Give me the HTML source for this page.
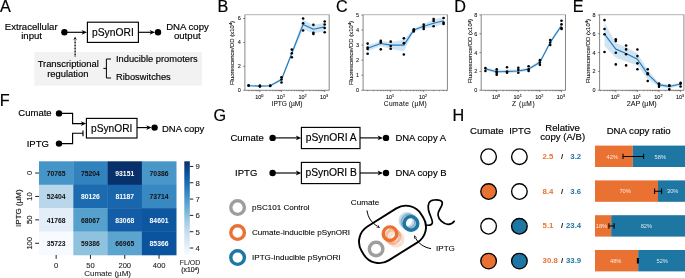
<!DOCTYPE html>
<html><head><meta charset="utf-8"><title>Figure</title>
<style>html,body{margin:0;padding:0;background:#fff}svg{display:block}</style></head>
<body>
<svg width="685" height="278" viewBox="0 0 685 278" font-family='"Liberation Sans", Arial, Helvetica, sans-serif' fill="#000">
<rect width="685" height="278" fill="#fff"/>
<text x="-0.10" y="11.60" font-size="16.2" text-anchor="start" fill="#000" stroke="#000" stroke-width="0.2">A</text>
<rect x="34.4" y="52" width="167.6" height="33.6" fill="#f2f2f2"/>
<text x="31.20" y="29.60" font-size="9.6" text-anchor="middle" stroke="#000" stroke-width="0.16">Extracellular</text>
<text x="31.60" y="39.40" font-size="9.6" text-anchor="middle" stroke="#000" stroke-width="0.16">input</text>
<circle cx="64.40" cy="32.30" r="3.2" fill="#000"/>
<line x1="64.40" y1="32.30" x2="83.20" y2="32.30" stroke="#000" stroke-width="1.15"/>
<path d="M87.00,32.30 L81.60,34.70 L83.10,32.30 L81.60,29.90 z" fill="#000"/>
<rect x="87.4" y="22.2" width="51.00" height="20.20" fill="#fff" stroke="#000" stroke-width="1.15"/>
<text x="112.90" y="35.70" font-size="10.3" text-anchor="middle" stroke="#000" stroke-width="0.16">pSynORI</text>
<line x1="138.40" y1="32.30" x2="151.20" y2="32.30" stroke="#000" stroke-width="1.15"/>
<path d="M155.00,32.30 L149.60,34.70 L151.10,32.30 L149.60,29.90 z" fill="#000"/>
<circle cx="158.00" cy="32.30" r="3.2" fill="#000"/>
<text x="187.50" y="29.60" font-size="9.6" text-anchor="middle" stroke="#000" stroke-width="0.16">DNA copy</text>
<text x="187.30" y="39.40" font-size="9.6" text-anchor="middle" stroke="#000" stroke-width="0.16">output</text>
<line x1="75.1" y1="56.4" x2="75.1" y2="40" stroke="#000" stroke-width="1.3" stroke-dasharray="0.9 0.6"/>
<path d="M75.10,36.60 L76.90,40.60 L75.10,39.10 L73.30,40.60 z" fill="#000"/>
<text x="68.20" y="67.40" font-size="9.4" text-anchor="middle" stroke="#000" stroke-width="0.16">Transcriptional</text>
<text x="67.80" y="76.90" font-size="9.4" text-anchor="middle" stroke="#000" stroke-width="0.16">regulation</text>
<path d="M111,59 H106.4 V78 H111 M106.4,68.4 H103.4" fill="none" stroke="#000" stroke-width="1"/>
<text x="116.00" y="62.00" font-size="9.3" text-anchor="start" stroke="#000" stroke-width="0.16">Inducible promoters</text>
<text x="116.00" y="80.00" font-size="9.3" text-anchor="start" stroke="#000" stroke-width="0.16">Riboswitches</text>
<text x="217.40" y="11.60" font-size="16.2" text-anchor="start" fill="#000" stroke="#000" stroke-width="0.2">B</text>
<clipPath id="cB"><rect x="244.9" y="14.7" width="84.3" height="75.60"/></clipPath>
<polygon points="248.61,84.80 259.90,85.27 270.21,84.80 281.50,77.73 291.81,50.81 303.10,19.70 313.41,25.08 324.70,22.69 324.70,31.06 313.41,33.46 303.10,29.27 291.81,55.60 281.50,81.33 270.21,86.71 259.90,86.95 248.61,86.71" fill="#c9dff0" opacity="0.85"/>
<polyline points="248.61,85.75 259.90,86.11 270.21,85.75 281.50,79.53 291.81,53.20 303.10,24.48 313.41,29.27 324.70,26.88" fill="none" stroke="#1f7bc0" stroke-width="1.15" stroke-linejoin="round"/>
<circle cx="248.61" cy="85.27" r="1.3" fill="#000"/>
<circle cx="248.61" cy="85.75" r="1.3" fill="#000"/>
<circle cx="259.90" cy="85.51" r="1.3" fill="#000"/>
<circle cx="259.90" cy="86.59" r="1.3" fill="#000"/>
<circle cx="270.21" cy="85.51" r="1.3" fill="#000"/>
<circle cx="270.21" cy="85.99" r="1.3" fill="#000"/>
<circle cx="281.50" cy="77.26" r="1.3" fill="#000"/>
<circle cx="281.50" cy="79.53" r="1.3" fill="#000"/>
<circle cx="281.50" cy="82.52" r="1.3" fill="#000"/>
<circle cx="291.81" cy="49.61" r="1.3" fill="#000"/>
<circle cx="291.81" cy="53.20" r="1.3" fill="#000"/>
<circle cx="291.81" cy="57.27" r="1.3" fill="#000"/>
<circle cx="303.10" cy="18.50" r="1.3" fill="#000"/>
<circle cx="303.10" cy="23.29" r="1.3" fill="#000"/>
<circle cx="303.10" cy="30.47" r="1.3" fill="#000"/>
<circle cx="313.41" cy="24.84" r="1.3" fill="#000"/>
<circle cx="313.41" cy="32.86" r="1.3" fill="#000"/>
<circle cx="313.41" cy="34.06" r="1.3" fill="#000"/>
<circle cx="324.70" cy="21.49" r="1.3" fill="#000"/>
<circle cx="324.70" cy="24.48" r="1.3" fill="#000"/>
<circle cx="324.70" cy="28.07" r="1.3" fill="#000"/>
<circle cx="324.70" cy="32.26" r="1.3" fill="#000"/>
<path d="M244.9,14.7 V90.3 H329.2 V14.7" fill="none" stroke="#222" stroke-width="0.55"/>
<path d="M244.9,14.7 H329.2" fill="none" stroke="#555" stroke-width="0.45"/>
<line x1="243.1" y1="90.30" x2="244.9" y2="90.30" stroke="#222" stroke-width="0.5"/>
<text x="240.90" y="92.20" font-size="5.5" text-anchor="end" fill="#111" stroke="#111" stroke-width="0.08">0</text>
<line x1="243.1" y1="66.37" x2="244.9" y2="66.37" stroke="#222" stroke-width="0.5"/>
<text x="240.90" y="68.27" font-size="5.5" text-anchor="end" fill="#111" stroke="#111" stroke-width="0.08">2</text>
<line x1="243.1" y1="42.43" x2="244.9" y2="42.43" stroke="#222" stroke-width="0.5"/>
<text x="240.90" y="44.33" font-size="5.5" text-anchor="end" fill="#111" stroke="#111" stroke-width="0.08">4</text>
<line x1="243.1" y1="18.50" x2="244.9" y2="18.50" stroke="#222" stroke-width="0.5"/>
<text x="240.90" y="20.40" font-size="5.5" text-anchor="end" fill="#111" stroke="#111" stroke-width="0.08">6</text>
<line x1="259.90" y1="90.3" x2="259.90" y2="92.1" stroke="#222" stroke-width="0.5"/>
<text x="259.30" y="98.70" font-size="5.5" text-anchor="middle" fill="#111" stroke="#111" stroke-width="0.1">10<tspan font-size="3.8" dy="-2.2">0</tspan></text>
<line x1="281.50" y1="90.3" x2="281.50" y2="92.1" stroke="#222" stroke-width="0.5"/>
<text x="280.90" y="98.70" font-size="5.5" text-anchor="middle" fill="#111" stroke="#111" stroke-width="0.1">10<tspan font-size="3.8" dy="-2.2">1</tspan></text>
<line x1="303.10" y1="90.3" x2="303.10" y2="92.1" stroke="#222" stroke-width="0.5"/>
<text x="302.50" y="98.70" font-size="5.5" text-anchor="middle" fill="#111" stroke="#111" stroke-width="0.1">10<tspan font-size="3.8" dy="-2.2">2</tspan></text>
<line x1="324.70" y1="90.3" x2="324.70" y2="92.1" stroke="#222" stroke-width="0.5"/>
<text x="324.10" y="98.70" font-size="5.5" text-anchor="middle" fill="#111" stroke="#111" stroke-width="0.1">10<tspan font-size="3.8" dy="-2.2">3</tspan></text>
<line x1="248.61" y1="90.3" x2="248.61" y2="91.3" stroke="#222" stroke-width="0.4"/>
<line x1="251.30" y1="90.3" x2="251.30" y2="91.3" stroke="#222" stroke-width="0.4"/>
<line x1="253.40" y1="90.3" x2="253.40" y2="91.3" stroke="#222" stroke-width="0.4"/>
<line x1="255.11" y1="90.3" x2="255.11" y2="91.3" stroke="#222" stroke-width="0.4"/>
<line x1="256.55" y1="90.3" x2="256.55" y2="91.3" stroke="#222" stroke-width="0.4"/>
<line x1="257.81" y1="90.3" x2="257.81" y2="91.3" stroke="#222" stroke-width="0.4"/>
<line x1="258.91" y1="90.3" x2="258.91" y2="91.3" stroke="#222" stroke-width="0.4"/>
<line x1="266.40" y1="90.3" x2="266.40" y2="91.3" stroke="#222" stroke-width="0.4"/>
<line x1="270.21" y1="90.3" x2="270.21" y2="91.3" stroke="#222" stroke-width="0.4"/>
<line x1="272.90" y1="90.3" x2="272.90" y2="91.3" stroke="#222" stroke-width="0.4"/>
<line x1="275.00" y1="90.3" x2="275.00" y2="91.3" stroke="#222" stroke-width="0.4"/>
<line x1="276.71" y1="90.3" x2="276.71" y2="91.3" stroke="#222" stroke-width="0.4"/>
<line x1="278.15" y1="90.3" x2="278.15" y2="91.3" stroke="#222" stroke-width="0.4"/>
<line x1="279.41" y1="90.3" x2="279.41" y2="91.3" stroke="#222" stroke-width="0.4"/>
<line x1="280.51" y1="90.3" x2="280.51" y2="91.3" stroke="#222" stroke-width="0.4"/>
<line x1="288.00" y1="90.3" x2="288.00" y2="91.3" stroke="#222" stroke-width="0.4"/>
<line x1="291.81" y1="90.3" x2="291.81" y2="91.3" stroke="#222" stroke-width="0.4"/>
<line x1="294.50" y1="90.3" x2="294.50" y2="91.3" stroke="#222" stroke-width="0.4"/>
<line x1="296.60" y1="90.3" x2="296.60" y2="91.3" stroke="#222" stroke-width="0.4"/>
<line x1="298.31" y1="90.3" x2="298.31" y2="91.3" stroke="#222" stroke-width="0.4"/>
<line x1="299.75" y1="90.3" x2="299.75" y2="91.3" stroke="#222" stroke-width="0.4"/>
<line x1="301.01" y1="90.3" x2="301.01" y2="91.3" stroke="#222" stroke-width="0.4"/>
<line x1="302.11" y1="90.3" x2="302.11" y2="91.3" stroke="#222" stroke-width="0.4"/>
<line x1="309.60" y1="90.3" x2="309.60" y2="91.3" stroke="#222" stroke-width="0.4"/>
<line x1="313.41" y1="90.3" x2="313.41" y2="91.3" stroke="#222" stroke-width="0.4"/>
<line x1="316.10" y1="90.3" x2="316.10" y2="91.3" stroke="#222" stroke-width="0.4"/>
<line x1="318.20" y1="90.3" x2="318.20" y2="91.3" stroke="#222" stroke-width="0.4"/>
<line x1="319.91" y1="90.3" x2="319.91" y2="91.3" stroke="#222" stroke-width="0.4"/>
<line x1="321.35" y1="90.3" x2="321.35" y2="91.3" stroke="#222" stroke-width="0.4"/>
<line x1="322.61" y1="90.3" x2="322.61" y2="91.3" stroke="#222" stroke-width="0.4"/>
<line x1="323.71" y1="90.3" x2="323.71" y2="91.3" stroke="#222" stroke-width="0.4"/>
<text x="287.05" y="105.70" font-size="6.6" text-anchor="middle" fill="#111" stroke="#111" stroke-width="0.08">IPTG (µM)</text>
<text transform="translate(233.90,53.00) rotate(-90)" font-size="6.0" text-anchor="middle" fill="#111" stroke="#111" stroke-width="0.1">Fluorescence/OD (x10<tspan font-size="3.9" dy="-1.9">4</tspan><tspan dy="1.9">)</tspan></text>
<text x="336.00" y="11.60" font-size="16.2" text-anchor="start" fill="#000" stroke="#000" stroke-width="0.2">C</text>
<clipPath id="cC"><rect x="363.1" y="14.7" width="84.3" height="75.60"/></clipPath>
<polygon points="367.63,45.27 380.77,40.90 390.70,42.11 403.83,39.85 413.77,28.55 423.70,24.04 433.63,19.52 443.57,17.26 443.57,24.04 433.63,27.05 423.70,28.55 413.77,31.57 403.83,51.14 390.70,49.04 380.77,46.02 367.63,51.45" fill="#c9dff0" opacity="0.85"/>
<polyline points="367.63,48.28 380.77,43.46 390.70,45.12 403.83,45.12 413.77,30.06 423.70,26.30 433.63,23.28 443.57,20.72" fill="none" stroke="#1f7bc0" stroke-width="1.15" stroke-linejoin="round"/>
<circle cx="367.63" cy="43.61" r="1.3" fill="#000"/>
<circle cx="367.63" cy="47.53" r="1.3" fill="#000"/>
<circle cx="367.63" cy="49.04" r="1.3" fill="#000"/>
<circle cx="367.63" cy="53.70" r="1.3" fill="#000"/>
<circle cx="380.77" cy="40.90" r="1.3" fill="#000"/>
<circle cx="380.77" cy="42.41" r="1.3" fill="#000"/>
<circle cx="380.77" cy="49.34" r="1.3" fill="#000"/>
<circle cx="390.70" cy="41.66" r="1.3" fill="#000"/>
<circle cx="390.70" cy="46.02" r="1.3" fill="#000"/>
<circle cx="390.70" cy="48.73" r="1.3" fill="#000"/>
<circle cx="403.83" cy="38.34" r="1.3" fill="#000"/>
<circle cx="403.83" cy="43.16" r="1.3" fill="#000"/>
<circle cx="403.83" cy="54.46" r="1.3" fill="#000"/>
<circle cx="413.77" cy="29.31" r="1.3" fill="#000"/>
<circle cx="413.77" cy="31.57" r="1.3" fill="#000"/>
<circle cx="413.77" cy="30.36" r="1.3" fill="#000"/>
<circle cx="423.70" cy="24.64" r="1.3" fill="#000"/>
<circle cx="423.70" cy="27.05" r="1.3" fill="#000"/>
<circle cx="423.70" cy="29.01" r="1.3" fill="#000"/>
<circle cx="433.63" cy="19.07" r="1.3" fill="#000"/>
<circle cx="433.63" cy="21.02" r="1.3" fill="#000"/>
<circle cx="433.63" cy="26.30" r="1.3" fill="#000"/>
<circle cx="443.57" cy="18.01" r="1.3" fill="#000"/>
<circle cx="443.57" cy="22.53" r="1.3" fill="#000"/>
<circle cx="443.57" cy="24.04" r="1.3" fill="#000"/>
<path d="M363.1,14.7 V90.3 H447.40000000000003 V14.7" fill="none" stroke="#222" stroke-width="0.55"/>
<path d="M363.1,14.7 H447.40000000000003" fill="none" stroke="#555" stroke-width="0.45"/>
<line x1="361.3" y1="90.30" x2="363.1" y2="90.30" stroke="#222" stroke-width="0.5"/>
<text x="359.10" y="92.20" font-size="5.5" text-anchor="end" fill="#111" stroke="#111" stroke-width="0.08">0</text>
<line x1="361.3" y1="75.24" x2="363.1" y2="75.24" stroke="#222" stroke-width="0.5"/>
<text x="359.10" y="77.14" font-size="5.5" text-anchor="end" fill="#111" stroke="#111" stroke-width="0.08">1</text>
<line x1="361.3" y1="60.18" x2="363.1" y2="60.18" stroke="#222" stroke-width="0.5"/>
<text x="359.10" y="62.08" font-size="5.5" text-anchor="end" fill="#111" stroke="#111" stroke-width="0.08">2</text>
<line x1="361.3" y1="45.12" x2="363.1" y2="45.12" stroke="#222" stroke-width="0.5"/>
<text x="359.10" y="47.02" font-size="5.5" text-anchor="end" fill="#111" stroke="#111" stroke-width="0.08">3</text>
<line x1="361.3" y1="30.06" x2="363.1" y2="30.06" stroke="#222" stroke-width="0.5"/>
<text x="359.10" y="31.96" font-size="5.5" text-anchor="end" fill="#111" stroke="#111" stroke-width="0.08">4</text>
<line x1="361.3" y1="15.00" x2="363.1" y2="15.00" stroke="#222" stroke-width="0.5"/>
<text x="359.10" y="16.90" font-size="5.5" text-anchor="end" fill="#111" stroke="#111" stroke-width="0.08">5</text>
<line x1="390.70" y1="90.3" x2="390.70" y2="92.1" stroke="#222" stroke-width="0.5"/>
<text x="390.10" y="98.70" font-size="5.5" text-anchor="middle" fill="#111" stroke="#111" stroke-width="0.1">10<tspan font-size="3.8" dy="-2.2">1</tspan></text>
<line x1="423.70" y1="90.3" x2="423.70" y2="92.1" stroke="#222" stroke-width="0.5"/>
<text x="423.10" y="98.70" font-size="5.5" text-anchor="middle" fill="#111" stroke="#111" stroke-width="0.1">10<tspan font-size="3.8" dy="-2.2">2</tspan></text>
<line x1="367.63" y1="90.3" x2="367.63" y2="91.3" stroke="#222" stroke-width="0.4"/>
<line x1="373.45" y1="90.3" x2="373.45" y2="91.3" stroke="#222" stroke-width="0.4"/>
<line x1="377.57" y1="90.3" x2="377.57" y2="91.3" stroke="#222" stroke-width="0.4"/>
<line x1="380.77" y1="90.3" x2="380.77" y2="91.3" stroke="#222" stroke-width="0.4"/>
<line x1="383.38" y1="90.3" x2="383.38" y2="91.3" stroke="#222" stroke-width="0.4"/>
<line x1="385.59" y1="90.3" x2="385.59" y2="91.3" stroke="#222" stroke-width="0.4"/>
<line x1="387.50" y1="90.3" x2="387.50" y2="91.3" stroke="#222" stroke-width="0.4"/>
<line x1="389.19" y1="90.3" x2="389.19" y2="91.3" stroke="#222" stroke-width="0.4"/>
<line x1="400.63" y1="90.3" x2="400.63" y2="91.3" stroke="#222" stroke-width="0.4"/>
<line x1="406.45" y1="90.3" x2="406.45" y2="91.3" stroke="#222" stroke-width="0.4"/>
<line x1="410.57" y1="90.3" x2="410.57" y2="91.3" stroke="#222" stroke-width="0.4"/>
<line x1="413.77" y1="90.3" x2="413.77" y2="91.3" stroke="#222" stroke-width="0.4"/>
<line x1="416.38" y1="90.3" x2="416.38" y2="91.3" stroke="#222" stroke-width="0.4"/>
<line x1="418.59" y1="90.3" x2="418.59" y2="91.3" stroke="#222" stroke-width="0.4"/>
<line x1="420.50" y1="90.3" x2="420.50" y2="91.3" stroke="#222" stroke-width="0.4"/>
<line x1="422.19" y1="90.3" x2="422.19" y2="91.3" stroke="#222" stroke-width="0.4"/>
<line x1="433.63" y1="90.3" x2="433.63" y2="91.3" stroke="#222" stroke-width="0.4"/>
<line x1="439.45" y1="90.3" x2="439.45" y2="91.3" stroke="#222" stroke-width="0.4"/>
<line x1="443.57" y1="90.3" x2="443.57" y2="91.3" stroke="#222" stroke-width="0.4"/>
<line x1="446.77" y1="90.3" x2="446.77" y2="91.3" stroke="#222" stroke-width="0.4"/>
<text x="405.48" y="105.70" font-size="6.6" text-anchor="middle" fill="#111" stroke="#111" stroke-width="0.08" letter-spacing="0.45">Cumate (µM)</text>
<text transform="translate(352.80,53.00) rotate(-90)" font-size="6.0" text-anchor="middle" fill="#111" stroke="#111" stroke-width="0.1">Fluorescence/OD (x10<tspan font-size="3.9" dy="-1.9">4</tspan><tspan dy="1.9">)</tspan></text>
<text x="454.20" y="11.60" font-size="16.2" text-anchor="start" fill="#000" stroke="#000" stroke-width="0.2">D</text>
<clipPath id="cD"><rect x="481.2" y="14.7" width="84.3" height="75.60"/></clipPath>
<polygon points="485.41,67.49 496.70,70.04 507.01,69.56 518.30,69.38 528.61,67.49 539.90,60.61 550.21,40.72 561.50,23.38 561.50,27.62 550.21,44.12 539.90,63.91 528.61,70.70 518.30,72.58 507.01,73.15 496.70,73.33 485.41,70.51" fill="#c9dff0" opacity="0.85"/>
<polyline points="485.41,68.91 496.70,71.73 507.01,71.45 518.30,70.98 528.61,69.09 539.90,62.31 550.21,42.42 561.50,25.46" fill="none" stroke="#1f7bc0" stroke-width="1.15" stroke-linejoin="round"/>
<circle cx="485.41" cy="68.15" r="1.3" fill="#000"/>
<circle cx="485.41" cy="71.07" r="1.3" fill="#000"/>
<circle cx="496.70" cy="69.19" r="1.3" fill="#000"/>
<circle cx="496.70" cy="71.45" r="1.3" fill="#000"/>
<circle cx="496.70" cy="72.77" r="1.3" fill="#000"/>
<circle cx="496.70" cy="74.65" r="1.3" fill="#000"/>
<circle cx="507.01" cy="67.30" r="1.3" fill="#000"/>
<circle cx="507.01" cy="71.45" r="1.3" fill="#000"/>
<circle cx="507.01" cy="72.77" r="1.3" fill="#000"/>
<circle cx="518.30" cy="67.68" r="1.3" fill="#000"/>
<circle cx="518.30" cy="69.85" r="1.3" fill="#000"/>
<circle cx="518.30" cy="72.77" r="1.3" fill="#000"/>
<circle cx="528.61" cy="66.27" r="1.3" fill="#000"/>
<circle cx="528.61" cy="69.19" r="1.3" fill="#000"/>
<circle cx="528.61" cy="70.98" r="1.3" fill="#000"/>
<circle cx="539.90" cy="60.14" r="1.3" fill="#000"/>
<circle cx="539.90" cy="62.59" r="1.3" fill="#000"/>
<circle cx="539.90" cy="64.85" r="1.3" fill="#000"/>
<circle cx="550.21" cy="39.97" r="1.3" fill="#000"/>
<circle cx="550.21" cy="42.52" r="1.3" fill="#000"/>
<circle cx="550.21" cy="45.06" r="1.3" fill="#000"/>
<circle cx="561.50" cy="20.74" r="1.3" fill="#000"/>
<circle cx="561.50" cy="24.33" r="1.3" fill="#000"/>
<circle cx="561.50" cy="28.10" r="1.3" fill="#000"/>
<circle cx="561.50" cy="29.04" r="1.3" fill="#000"/>
<path d="M481.2,14.7 V90.3 H565.5 V14.7" fill="none" stroke="#222" stroke-width="0.55"/>
<path d="M481.2,14.7 H565.5" fill="none" stroke="#555" stroke-width="0.45"/>
<line x1="479.4" y1="90.30" x2="481.2" y2="90.30" stroke="#222" stroke-width="0.5"/>
<text x="477.20" y="92.20" font-size="5.5" text-anchor="end" fill="#111" stroke="#111" stroke-width="0.08">0</text>
<line x1="479.4" y1="71.45" x2="481.2" y2="71.45" stroke="#222" stroke-width="0.5"/>
<text x="477.20" y="73.35" font-size="5.5" text-anchor="end" fill="#111" stroke="#111" stroke-width="0.08">2</text>
<line x1="479.4" y1="52.60" x2="481.2" y2="52.60" stroke="#222" stroke-width="0.5"/>
<text x="477.20" y="54.50" font-size="5.5" text-anchor="end" fill="#111" stroke="#111" stroke-width="0.08">4</text>
<line x1="479.4" y1="33.75" x2="481.2" y2="33.75" stroke="#222" stroke-width="0.5"/>
<text x="477.20" y="35.65" font-size="5.5" text-anchor="end" fill="#111" stroke="#111" stroke-width="0.08">6</text>
<line x1="479.4" y1="14.90" x2="481.2" y2="14.90" stroke="#222" stroke-width="0.5"/>
<text x="477.20" y="16.80" font-size="5.5" text-anchor="end" fill="#111" stroke="#111" stroke-width="0.08">8</text>
<line x1="496.70" y1="90.3" x2="496.70" y2="92.1" stroke="#222" stroke-width="0.5"/>
<text x="496.10" y="98.70" font-size="5.5" text-anchor="middle" fill="#111" stroke="#111" stroke-width="0.1">10<tspan font-size="3.8" dy="-2.2">0</tspan></text>
<line x1="518.30" y1="90.3" x2="518.30" y2="92.1" stroke="#222" stroke-width="0.5"/>
<text x="517.70" y="98.70" font-size="5.5" text-anchor="middle" fill="#111" stroke="#111" stroke-width="0.1">10<tspan font-size="3.8" dy="-2.2">1</tspan></text>
<line x1="539.90" y1="90.3" x2="539.90" y2="92.1" stroke="#222" stroke-width="0.5"/>
<text x="539.30" y="98.70" font-size="5.5" text-anchor="middle" fill="#111" stroke="#111" stroke-width="0.1">10<tspan font-size="3.8" dy="-2.2">2</tspan></text>
<line x1="561.50" y1="90.3" x2="561.50" y2="92.1" stroke="#222" stroke-width="0.5"/>
<text x="560.90" y="98.70" font-size="5.5" text-anchor="middle" fill="#111" stroke="#111" stroke-width="0.1">10<tspan font-size="3.8" dy="-2.2">3</tspan></text>
<line x1="485.41" y1="90.3" x2="485.41" y2="91.3" stroke="#222" stroke-width="0.4"/>
<line x1="488.10" y1="90.3" x2="488.10" y2="91.3" stroke="#222" stroke-width="0.4"/>
<line x1="490.20" y1="90.3" x2="490.20" y2="91.3" stroke="#222" stroke-width="0.4"/>
<line x1="491.91" y1="90.3" x2="491.91" y2="91.3" stroke="#222" stroke-width="0.4"/>
<line x1="493.35" y1="90.3" x2="493.35" y2="91.3" stroke="#222" stroke-width="0.4"/>
<line x1="494.61" y1="90.3" x2="494.61" y2="91.3" stroke="#222" stroke-width="0.4"/>
<line x1="495.71" y1="90.3" x2="495.71" y2="91.3" stroke="#222" stroke-width="0.4"/>
<line x1="503.20" y1="90.3" x2="503.20" y2="91.3" stroke="#222" stroke-width="0.4"/>
<line x1="507.01" y1="90.3" x2="507.01" y2="91.3" stroke="#222" stroke-width="0.4"/>
<line x1="509.70" y1="90.3" x2="509.70" y2="91.3" stroke="#222" stroke-width="0.4"/>
<line x1="511.80" y1="90.3" x2="511.80" y2="91.3" stroke="#222" stroke-width="0.4"/>
<line x1="513.51" y1="90.3" x2="513.51" y2="91.3" stroke="#222" stroke-width="0.4"/>
<line x1="514.95" y1="90.3" x2="514.95" y2="91.3" stroke="#222" stroke-width="0.4"/>
<line x1="516.21" y1="90.3" x2="516.21" y2="91.3" stroke="#222" stroke-width="0.4"/>
<line x1="517.31" y1="90.3" x2="517.31" y2="91.3" stroke="#222" stroke-width="0.4"/>
<line x1="524.80" y1="90.3" x2="524.80" y2="91.3" stroke="#222" stroke-width="0.4"/>
<line x1="528.61" y1="90.3" x2="528.61" y2="91.3" stroke="#222" stroke-width="0.4"/>
<line x1="531.30" y1="90.3" x2="531.30" y2="91.3" stroke="#222" stroke-width="0.4"/>
<line x1="533.40" y1="90.3" x2="533.40" y2="91.3" stroke="#222" stroke-width="0.4"/>
<line x1="535.11" y1="90.3" x2="535.11" y2="91.3" stroke="#222" stroke-width="0.4"/>
<line x1="536.55" y1="90.3" x2="536.55" y2="91.3" stroke="#222" stroke-width="0.4"/>
<line x1="537.81" y1="90.3" x2="537.81" y2="91.3" stroke="#222" stroke-width="0.4"/>
<line x1="538.91" y1="90.3" x2="538.91" y2="91.3" stroke="#222" stroke-width="0.4"/>
<line x1="546.40" y1="90.3" x2="546.40" y2="91.3" stroke="#222" stroke-width="0.4"/>
<line x1="550.21" y1="90.3" x2="550.21" y2="91.3" stroke="#222" stroke-width="0.4"/>
<line x1="552.90" y1="90.3" x2="552.90" y2="91.3" stroke="#222" stroke-width="0.4"/>
<line x1="555.00" y1="90.3" x2="555.00" y2="91.3" stroke="#222" stroke-width="0.4"/>
<line x1="556.71" y1="90.3" x2="556.71" y2="91.3" stroke="#222" stroke-width="0.4"/>
<line x1="558.15" y1="90.3" x2="558.15" y2="91.3" stroke="#222" stroke-width="0.4"/>
<line x1="559.41" y1="90.3" x2="559.41" y2="91.3" stroke="#222" stroke-width="0.4"/>
<line x1="560.51" y1="90.3" x2="560.51" y2="91.3" stroke="#222" stroke-width="0.4"/>
<text x="523.65" y="105.70" font-size="6.6" text-anchor="middle" fill="#111" stroke="#111" stroke-width="0.08" letter-spacing="0.6">Z (µM)</text>
<text transform="translate(472.40,51.20) rotate(-90)" font-size="6.0" text-anchor="middle" fill="#111" stroke="#111" stroke-width="0.1">Fluorescence/OD (x10<tspan font-size="3.9" dy="-1.9">4</tspan><tspan dy="1.9">)</tspan></text>
<text x="572.80" y="11.60" font-size="16.2" text-anchor="start" fill="#000" stroke="#000" stroke-width="0.2">E</text>
<clipPath id="cE"><rect x="599.6" y="14.7" width="84.3" height="75.60"/></clipPath>
<polygon points="604.51,22.44 615.80,42.99 626.11,46.95 637.40,53.54 647.71,69.75 659.00,83.04 669.31,84.64 680.60,82.48 680.60,85.59 669.31,88.41 659.00,86.81 647.71,79.18 637.40,65.14 626.11,61.46 615.80,57.78 604.51,46.00" fill="#c9dff0" opacity="0.85"/>
<polyline points="604.51,34.22 615.80,49.11 626.11,53.54 637.40,59.29 647.71,74.09 659.00,84.93 669.31,86.44 680.60,83.99" fill="none" stroke="#1f7bc0" stroke-width="1.15" stroke-linejoin="round"/>
<circle cx="604.51" cy="20.08" r="1.3" fill="#000"/>
<circle cx="604.51" cy="29.04" r="1.3" fill="#000"/>
<circle cx="604.51" cy="34.22" r="1.3" fill="#000"/>
<circle cx="604.51" cy="52.03" r="1.3" fill="#000"/>
<circle cx="615.80" cy="39.22" r="1.3" fill="#000"/>
<circle cx="615.80" cy="41.10" r="1.3" fill="#000"/>
<circle cx="615.80" cy="52.69" r="1.3" fill="#000"/>
<circle cx="615.80" cy="64.38" r="1.3" fill="#000"/>
<circle cx="626.11" cy="45.44" r="1.3" fill="#000"/>
<circle cx="626.11" cy="49.40" r="1.3" fill="#000"/>
<circle cx="626.11" cy="54.20" r="1.3" fill="#000"/>
<circle cx="626.11" cy="65.42" r="1.3" fill="#000"/>
<circle cx="637.40" cy="49.49" r="1.3" fill="#000"/>
<circle cx="637.40" cy="56.09" r="1.3" fill="#000"/>
<circle cx="637.40" cy="63.34" r="1.3" fill="#000"/>
<circle cx="637.40" cy="69.19" r="1.3" fill="#000"/>
<circle cx="647.71" cy="69.28" r="1.3" fill="#000"/>
<circle cx="647.71" cy="73.33" r="1.3" fill="#000"/>
<circle cx="647.71" cy="74.28" r="1.3" fill="#000"/>
<circle cx="647.71" cy="81.06" r="1.3" fill="#000"/>
<circle cx="659.00" cy="83.51" r="1.3" fill="#000"/>
<circle cx="659.00" cy="84.64" r="1.3" fill="#000"/>
<circle cx="659.00" cy="86.72" r="1.3" fill="#000"/>
<circle cx="669.31" cy="85.21" r="1.3" fill="#000"/>
<circle cx="669.31" cy="86.06" r="1.3" fill="#000"/>
<circle cx="669.31" cy="89.36" r="1.3" fill="#000"/>
<circle cx="680.60" cy="82.76" r="1.3" fill="#000"/>
<circle cx="680.60" cy="83.80" r="1.3" fill="#000"/>
<circle cx="680.60" cy="86.44" r="1.3" fill="#000"/>
<path d="M599.6,14.7 V90.3 H683.9 V14.7" fill="none" stroke="#222" stroke-width="0.55"/>
<path d="M599.6,14.7 H683.9" fill="none" stroke="#555" stroke-width="0.45"/>
<line x1="597.8000000000001" y1="90.30" x2="599.6" y2="90.30" stroke="#222" stroke-width="0.5"/>
<text x="595.60" y="92.20" font-size="5.5" text-anchor="end" fill="#111" stroke="#111" stroke-width="0.08">0</text>
<line x1="597.8000000000001" y1="71.45" x2="599.6" y2="71.45" stroke="#222" stroke-width="0.5"/>
<text x="595.60" y="73.35" font-size="5.5" text-anchor="end" fill="#111" stroke="#111" stroke-width="0.08">2</text>
<line x1="597.8000000000001" y1="52.60" x2="599.6" y2="52.60" stroke="#222" stroke-width="0.5"/>
<text x="595.60" y="54.50" font-size="5.5" text-anchor="end" fill="#111" stroke="#111" stroke-width="0.08">4</text>
<line x1="597.8000000000001" y1="33.75" x2="599.6" y2="33.75" stroke="#222" stroke-width="0.5"/>
<text x="595.60" y="35.65" font-size="5.5" text-anchor="end" fill="#111" stroke="#111" stroke-width="0.08">6</text>
<line x1="597.8000000000001" y1="14.90" x2="599.6" y2="14.90" stroke="#222" stroke-width="0.5"/>
<text x="595.60" y="16.80" font-size="5.5" text-anchor="end" fill="#111" stroke="#111" stroke-width="0.08">8</text>
<line x1="615.80" y1="90.3" x2="615.80" y2="92.1" stroke="#222" stroke-width="0.5"/>
<text x="615.20" y="98.70" font-size="5.5" text-anchor="middle" fill="#111" stroke="#111" stroke-width="0.1">10<tspan font-size="3.8" dy="-2.2">0</tspan></text>
<line x1="637.40" y1="90.3" x2="637.40" y2="92.1" stroke="#222" stroke-width="0.5"/>
<text x="636.80" y="98.70" font-size="5.5" text-anchor="middle" fill="#111" stroke="#111" stroke-width="0.1">10<tspan font-size="3.8" dy="-2.2">1</tspan></text>
<line x1="659.00" y1="90.3" x2="659.00" y2="92.1" stroke="#222" stroke-width="0.5"/>
<text x="658.40" y="98.70" font-size="5.5" text-anchor="middle" fill="#111" stroke="#111" stroke-width="0.1">10<tspan font-size="3.8" dy="-2.2">2</tspan></text>
<line x1="680.60" y1="90.3" x2="680.60" y2="92.1" stroke="#222" stroke-width="0.5"/>
<text x="680.00" y="98.70" font-size="5.5" text-anchor="middle" fill="#111" stroke="#111" stroke-width="0.1">10<tspan font-size="3.8" dy="-2.2">3</tspan></text>
<line x1="600.70" y1="90.3" x2="600.70" y2="91.3" stroke="#222" stroke-width="0.4"/>
<line x1="604.51" y1="90.3" x2="604.51" y2="91.3" stroke="#222" stroke-width="0.4"/>
<line x1="607.20" y1="90.3" x2="607.20" y2="91.3" stroke="#222" stroke-width="0.4"/>
<line x1="609.30" y1="90.3" x2="609.30" y2="91.3" stroke="#222" stroke-width="0.4"/>
<line x1="611.01" y1="90.3" x2="611.01" y2="91.3" stroke="#222" stroke-width="0.4"/>
<line x1="612.45" y1="90.3" x2="612.45" y2="91.3" stroke="#222" stroke-width="0.4"/>
<line x1="613.71" y1="90.3" x2="613.71" y2="91.3" stroke="#222" stroke-width="0.4"/>
<line x1="614.81" y1="90.3" x2="614.81" y2="91.3" stroke="#222" stroke-width="0.4"/>
<line x1="622.30" y1="90.3" x2="622.30" y2="91.3" stroke="#222" stroke-width="0.4"/>
<line x1="626.11" y1="90.3" x2="626.11" y2="91.3" stroke="#222" stroke-width="0.4"/>
<line x1="628.80" y1="90.3" x2="628.80" y2="91.3" stroke="#222" stroke-width="0.4"/>
<line x1="630.90" y1="90.3" x2="630.90" y2="91.3" stroke="#222" stroke-width="0.4"/>
<line x1="632.61" y1="90.3" x2="632.61" y2="91.3" stroke="#222" stroke-width="0.4"/>
<line x1="634.05" y1="90.3" x2="634.05" y2="91.3" stroke="#222" stroke-width="0.4"/>
<line x1="635.31" y1="90.3" x2="635.31" y2="91.3" stroke="#222" stroke-width="0.4"/>
<line x1="636.41" y1="90.3" x2="636.41" y2="91.3" stroke="#222" stroke-width="0.4"/>
<line x1="643.90" y1="90.3" x2="643.90" y2="91.3" stroke="#222" stroke-width="0.4"/>
<line x1="647.71" y1="90.3" x2="647.71" y2="91.3" stroke="#222" stroke-width="0.4"/>
<line x1="650.40" y1="90.3" x2="650.40" y2="91.3" stroke="#222" stroke-width="0.4"/>
<line x1="652.50" y1="90.3" x2="652.50" y2="91.3" stroke="#222" stroke-width="0.4"/>
<line x1="654.21" y1="90.3" x2="654.21" y2="91.3" stroke="#222" stroke-width="0.4"/>
<line x1="655.65" y1="90.3" x2="655.65" y2="91.3" stroke="#222" stroke-width="0.4"/>
<line x1="656.91" y1="90.3" x2="656.91" y2="91.3" stroke="#222" stroke-width="0.4"/>
<line x1="658.01" y1="90.3" x2="658.01" y2="91.3" stroke="#222" stroke-width="0.4"/>
<line x1="665.50" y1="90.3" x2="665.50" y2="91.3" stroke="#222" stroke-width="0.4"/>
<line x1="669.31" y1="90.3" x2="669.31" y2="91.3" stroke="#222" stroke-width="0.4"/>
<line x1="672.00" y1="90.3" x2="672.00" y2="91.3" stroke="#222" stroke-width="0.4"/>
<line x1="674.10" y1="90.3" x2="674.10" y2="91.3" stroke="#222" stroke-width="0.4"/>
<line x1="675.81" y1="90.3" x2="675.81" y2="91.3" stroke="#222" stroke-width="0.4"/>
<line x1="677.25" y1="90.3" x2="677.25" y2="91.3" stroke="#222" stroke-width="0.4"/>
<line x1="678.51" y1="90.3" x2="678.51" y2="91.3" stroke="#222" stroke-width="0.4"/>
<line x1="679.61" y1="90.3" x2="679.61" y2="91.3" stroke="#222" stroke-width="0.4"/>
<text x="641.75" y="105.70" font-size="7.1" text-anchor="middle" fill="#111" stroke="#111" stroke-width="0.08">2AP (µM)</text>
<text transform="translate(589.60,51.20) rotate(-90)" font-size="6.0" text-anchor="middle" fill="#111" stroke="#111" stroke-width="0.1">Fluorescence/OD (x10<tspan font-size="3.9" dy="-1.9">4</tspan><tspan dy="1.9">)</tspan></text>
<text x="-0.30" y="105.60" font-size="16.2" text-anchor="start" fill="#000" stroke="#000" stroke-width="0.2">F</text>
<text x="35.00" y="116.40" font-size="9.5" text-anchor="middle" stroke="#000" stroke-width="0.16">Cumate</text>
<circle cx="59.00" cy="113.40" r="3.2" fill="#000"/>
<path d="M59,113.4 H72.6 V123.6 H83" fill="none" stroke="#000" stroke-width="1.15"/>
<path d="M86.20,123.60 L80.80,126.00 L82.30,123.60 L80.80,121.20 z" fill="#000"/>
<text x="37.80" y="147.00" font-size="9.5" text-anchor="middle" stroke="#000" stroke-width="0.16">IPTG</text>
<circle cx="59.00" cy="143.60" r="3.2" fill="#000"/>
<path d="M59,143.6 H72.6 V133.2 H83 M83,130.4 V136.2" fill="none" stroke="#000" stroke-width="1.15"/>
<rect x="86.4" y="118.4" width="50.60" height="19.60" fill="#fff" stroke="#000" stroke-width="1.15"/>
<text x="111.70" y="131.80" font-size="10.2" text-anchor="middle" stroke="#000" stroke-width="0.16">pSynORI</text>
<line x1="137.00" y1="127.60" x2="147.80" y2="127.60" stroke="#000" stroke-width="1.15"/>
<path d="M151.60,127.60 L146.20,130.00 L147.70,127.60 L146.20,125.20 z" fill="#000"/>
<circle cx="154.60" cy="127.60" r="3.2" fill="#000"/>
<text x="162.00" y="131.60" font-size="9.5" text-anchor="start" stroke="#000" stroke-width="0.16">DNA copy</text>
<rect x="39.00" y="161.30" width="34.60" height="23.72" fill="#4695c8"/>
<rect x="73.30" y="161.30" width="34.60" height="23.72" fill="#3282be"/>
<rect x="107.60" y="161.30" width="34.60" height="23.72" fill="#08306b"/>
<rect x="141.90" y="161.30" width="34.60" height="23.72" fill="#4997c9"/>
<rect x="39.00" y="184.73" width="34.60" height="23.72" fill="#b9d6ea"/>
<rect x="73.30" y="184.73" width="34.60" height="23.72" fill="#1c6bb0"/>
<rect x="107.60" y="184.73" width="34.60" height="23.72" fill="#1966ad"/>
<rect x="141.90" y="184.73" width="34.60" height="23.72" fill="#3888c1"/>
<rect x="39.00" y="208.15" width="34.60" height="23.72" fill="#e3eef8"/>
<rect x="73.30" y="208.15" width="34.60" height="23.72" fill="#56a0ce"/>
<rect x="107.60" y="208.15" width="34.60" height="23.72" fill="#125da6"/>
<rect x="141.90" y="208.15" width="34.60" height="23.72" fill="#0d57a1"/>
<rect x="39.00" y="231.57" width="34.60" height="23.72" fill="#f7fbff"/>
<rect x="73.30" y="231.57" width="34.60" height="23.72" fill="#8fc2de"/>
<rect x="107.60" y="231.57" width="34.60" height="23.72" fill="#5ca4d0"/>
<rect x="141.90" y="231.57" width="34.60" height="23.72" fill="#0a539e"/>
<text x="56.15" y="175.71" font-size="6.8" text-anchor="middle" font-weight="bold" fill="#111">70765</text>
<text x="90.45" y="175.71" font-size="6.8" text-anchor="middle" font-weight="bold" fill="#111">75204</text>
<text x="124.75" y="175.71" font-size="6.8" text-anchor="middle" font-weight="bold" fill="#fff">93151</text>
<text x="159.05" y="175.71" font-size="6.8" text-anchor="middle" font-weight="bold" fill="#111">70386</text>
<text x="56.15" y="199.14" font-size="6.8" text-anchor="middle" font-weight="bold" fill="#111">52404</text>
<text x="90.45" y="199.14" font-size="6.8" text-anchor="middle" font-weight="bold" fill="#fff">80126</text>
<text x="124.75" y="199.14" font-size="6.8" text-anchor="middle" font-weight="bold" fill="#fff">81187</text>
<text x="159.05" y="199.14" font-size="6.8" text-anchor="middle" font-weight="bold" fill="#111">73714</text>
<text x="56.15" y="222.56" font-size="6.8" text-anchor="middle" font-weight="bold" fill="#111">41768</text>
<text x="90.45" y="222.56" font-size="6.8" text-anchor="middle" font-weight="bold" fill="#111">68067</text>
<text x="124.75" y="222.56" font-size="6.8" text-anchor="middle" font-weight="bold" fill="#fff">83068</text>
<text x="159.05" y="222.56" font-size="6.8" text-anchor="middle" font-weight="bold" fill="#fff">84601</text>
<text x="56.15" y="245.99" font-size="6.8" text-anchor="middle" font-weight="bold" fill="#111">35723</text>
<text x="90.45" y="245.99" font-size="6.8" text-anchor="middle" font-weight="bold" fill="#111">59386</text>
<text x="124.75" y="245.99" font-size="6.8" text-anchor="middle" font-weight="bold" fill="#111">66965</text>
<text x="159.05" y="245.99" font-size="6.8" text-anchor="middle" font-weight="bold" fill="#fff">85366</text>
<line x1="35.2" y1="173.01" x2="39.0" y2="173.01" stroke="#222" stroke-width="1"/>
<text transform="translate(31.8,173.01) rotate(-90)" font-size="7.6" text-anchor="middle" fill="#222" stroke="#222" stroke-width="0.18">0</text>
<line x1="35.2" y1="196.44" x2="39.0" y2="196.44" stroke="#222" stroke-width="1"/>
<text transform="translate(31.8,196.44) rotate(-90)" font-size="7.6" text-anchor="middle" fill="#222" stroke="#222" stroke-width="0.18">10</text>
<line x1="35.2" y1="219.86" x2="39.0" y2="219.86" stroke="#222" stroke-width="1"/>
<text transform="translate(31.8,219.86) rotate(-90)" font-size="7.6" text-anchor="middle" fill="#222" stroke="#222" stroke-width="0.18">50</text>
<line x1="35.2" y1="243.29" x2="39.0" y2="243.29" stroke="#222" stroke-width="1"/>
<text transform="translate(31.8,243.29) rotate(-90)" font-size="7.6" text-anchor="middle" fill="#222" stroke="#222" stroke-width="0.18">100</text>
<text transform="translate(20.6,208.15) rotate(-90)" font-size="8" text-anchor="middle" fill="#222" stroke="#222" stroke-width="0.18">IPTG (µM)</text>
<line x1="56.15" y1="255.0" x2="56.15" y2="258.8" stroke="#222" stroke-width="1"/>
<text x="56.15" y="267.70" font-size="7.6" text-anchor="middle" fill="#222" stroke="#222" stroke-width="0.08">0</text>
<line x1="90.45" y1="255.0" x2="90.45" y2="258.8" stroke="#222" stroke-width="1"/>
<text x="90.45" y="267.70" font-size="7.6" text-anchor="middle" fill="#222" stroke="#222" stroke-width="0.08">50</text>
<line x1="124.75" y1="255.0" x2="124.75" y2="258.8" stroke="#222" stroke-width="1"/>
<text x="124.75" y="267.70" font-size="7.6" text-anchor="middle" fill="#222" stroke="#222" stroke-width="0.08">200</text>
<line x1="159.05" y1="255.0" x2="159.05" y2="258.8" stroke="#222" stroke-width="1"/>
<text x="159.05" y="267.70" font-size="7.6" text-anchor="middle" fill="#222" stroke="#222" stroke-width="0.08">400</text>
<text x="107.60" y="276.20" font-size="8" text-anchor="middle" fill="#222" stroke="#222" stroke-width="0.08">Cumate (µM)</text>
<linearGradient id="cb" x1="0" y1="1" x2="0" y2="0">
<stop offset="0.00" stop-color="#f7fbff"/>
<stop offset="0.05" stop-color="#eef5fc"/>
<stop offset="0.10" stop-color="#e3eef9"/>
<stop offset="0.15" stop-color="#d9e8f5"/>
<stop offset="0.20" stop-color="#d0e1f2"/>
<stop offset="0.25" stop-color="#c6dbef"/>
<stop offset="0.30" stop-color="#b7d4ea"/>
<stop offset="0.35" stop-color="#a6cee4"/>
<stop offset="0.40" stop-color="#94c4df"/>
<stop offset="0.45" stop-color="#7fb9da"/>
<stop offset="0.50" stop-color="#6aaed6"/>
<stop offset="0.55" stop-color="#5ba3d0"/>
<stop offset="0.60" stop-color="#4a98c9"/>
<stop offset="0.65" stop-color="#3b8bc2"/>
<stop offset="0.70" stop-color="#2e7ebc"/>
<stop offset="0.75" stop-color="#2070b4"/>
<stop offset="0.80" stop-color="#1764ab"/>
<stop offset="0.85" stop-color="#0d57a1"/>
<stop offset="0.90" stop-color="#084a91"/>
<stop offset="0.95" stop-color="#083c7d"/>
<stop offset="1.00" stop-color="#08306b"/>
</linearGradient>
<rect x="184.3" y="161.3" width="5.5" height="93.70" fill="url(#cb)"/>
<line x1="189.8" y1="248.02" x2="193.3" y2="248.02" stroke="#222" stroke-width="1"/>
<text x="195.50" y="250.82" font-size="7.8" text-anchor="start" fill="#222" stroke="#222" stroke-width="0.08">4</text>
<line x1="189.8" y1="231.71" x2="193.3" y2="231.71" stroke="#222" stroke-width="1"/>
<text x="195.50" y="234.51" font-size="7.8" text-anchor="start" fill="#222" stroke="#222" stroke-width="0.08">5</text>
<line x1="189.8" y1="215.39" x2="193.3" y2="215.39" stroke="#222" stroke-width="1"/>
<text x="195.50" y="218.19" font-size="7.8" text-anchor="start" fill="#222" stroke="#222" stroke-width="0.08">6</text>
<line x1="189.8" y1="199.07" x2="193.3" y2="199.07" stroke="#222" stroke-width="1"/>
<text x="195.50" y="201.87" font-size="7.8" text-anchor="start" fill="#222" stroke="#222" stroke-width="0.08">7</text>
<line x1="189.8" y1="182.76" x2="193.3" y2="182.76" stroke="#222" stroke-width="1"/>
<text x="195.50" y="185.56" font-size="7.8" text-anchor="start" fill="#222" stroke="#222" stroke-width="0.08">8</text>
<line x1="189.8" y1="166.44" x2="193.3" y2="166.44" stroke="#222" stroke-width="1"/>
<text x="195.50" y="169.24" font-size="7.8" text-anchor="start" fill="#222" stroke="#222" stroke-width="0.08">9</text>
<text x="190.00" y="264.60" font-size="6.9" text-anchor="middle" fill="#222" stroke="#222" stroke-width="0.08">FL/OD</text>
<text x="190.3" y="272.0" font-size="6.9" text-anchor="middle" fill="#222" stroke="#222" stroke-width="0.18">(x10<tspan font-size="4.4" dy="-2.2">4</tspan><tspan dy="2.2">)</tspan></text>
<text x="213.40" y="120.60" font-size="16.2" text-anchor="start" fill="#000" stroke="#000" stroke-width="0.2">G</text>
<text x="247.10" y="141.00" font-size="9.5" text-anchor="middle" stroke="#000" stroke-width="0.16">Cumate</text>
<circle cx="272.60" cy="137.90" r="3.2" fill="#000"/>
<line x1="272.60" y1="137.90" x2="297.40" y2="137.90" stroke="#000" stroke-width="1.15"/>
<path d="M301.20,137.90 L295.80,140.30 L297.30,137.90 L295.80,135.50 z" fill="#000"/>
<rect x="301.4" y="127.4" width="58.60" height="21.20" fill="#fff" stroke="#000" stroke-width="1.15"/>
<text x="331.20" y="141.20" font-size="10.3" text-anchor="middle" stroke="#000" stroke-width="0.16">pSynORI A</text>
<line x1="360.00" y1="137.90" x2="379.20" y2="137.90" stroke="#000" stroke-width="1.15"/>
<path d="M383.00,137.90 L377.60,140.30 L379.10,137.90 L377.60,135.50 z" fill="#000"/>
<circle cx="386.00" cy="137.90" r="3.2" fill="#000"/>
<text x="395.40" y="140.80" font-size="9.5" text-anchor="start" stroke="#000" stroke-width="0.16">DNA copy A</text>
<text x="246.20" y="176.20" font-size="9.5" text-anchor="middle" stroke="#000" stroke-width="0.16">IPTG</text>
<circle cx="272.60" cy="173.00" r="3.2" fill="#000"/>
<line x1="272.60" y1="173.00" x2="297.40" y2="173.00" stroke="#000" stroke-width="1.15"/>
<path d="M301.20,173.00 L295.80,175.40 L297.30,173.00 L295.80,170.60 z" fill="#000"/>
<rect x="301.4" y="162.4" width="58.60" height="21.20" fill="#fff" stroke="#000" stroke-width="1.15"/>
<text x="331.20" y="176.40" font-size="10.3" text-anchor="middle" stroke="#000" stroke-width="0.16">pSynORI B</text>
<line x1="360.00" y1="173.00" x2="379.20" y2="173.00" stroke="#000" stroke-width="1.15"/>
<path d="M383.00,173.00 L377.60,175.40 L379.10,173.00 L377.60,170.60 z" fill="#000"/>
<circle cx="386.00" cy="173.00" r="3.2" fill="#000"/>
<text x="395.40" y="176.00" font-size="9.5" text-anchor="start" stroke="#000" stroke-width="0.16">DNA copy B</text>
<circle cx="237.60" cy="207.60" r="6.8" fill="none" stroke="#9e9e9e" stroke-width="3.4"/>
<text x="252.00" y="210.20" font-size="8.1" text-anchor="start" stroke="#000" stroke-width="0.08">pSC101 Control</text>
<circle cx="237.60" cy="232.60" r="6.8" fill="none" stroke="#e97132" stroke-width="3.4"/>
<text x="252.00" y="235.20" font-size="8.1" text-anchor="start" stroke="#000" stroke-width="0.08">Cumate-inducible pSynORI</text>
<circle cx="237.60" cy="257.60" r="6.8" fill="none" stroke="#1e76a2" stroke-width="3.4"/>
<text x="252.00" y="260.40" font-size="8.1" text-anchor="start" stroke="#000" stroke-width="0.08">IPTG-inducible pSynORI</text>
<g transform="translate(392.5,234.4) rotate(-32)"><rect x="-35" y="-20" width="70" height="40" rx="18" ry="18" fill="#fff" stroke="#000" stroke-width="1.9"/></g>
<path d="M425.8,225 C429,225.6 431.5,225.6 432.3,223 C433,220 429.5,215 428.5,210 C427.5,204 429,200.5 434,200 C439,199.5 443,200.5 442.2,204 C441.5,208 437.5,211 438,215 C438.5,219.5 443,224 448,224.3 C451,224.4 453,223 454.2,221.3" fill="none" stroke="#000" stroke-width="1.7" stroke-linecap="round"/>
<circle cx="376.10" cy="249.00" r="6.8" fill="none" stroke="#9e9e9e" stroke-width="3.4"/>
<circle cx="396.00" cy="239.20" r="6.8" fill="none" stroke="#e97132" stroke-width="3.4" opacity="0.22"/>
<circle cx="393.00" cy="236.50" r="6.8" fill="none" stroke="#e97132" stroke-width="3.4" opacity="0.45"/>
<circle cx="390.00" cy="233.70" r="6.8" fill="none" stroke="#e97132" stroke-width="3.4"/>
<circle cx="407.00" cy="220.60" r="6.8" fill="none" stroke="#1e76a2" stroke-width="3.4" opacity="0.25"/>
<circle cx="409.00" cy="222.00" r="6.8" fill="none" stroke="#1e76a2" stroke-width="3.4" opacity="0.45"/>
<circle cx="411.00" cy="223.40" r="6.8" fill="none" stroke="#1e76a2" stroke-width="3.4"/>
<text x="365.00" y="204.60" font-size="8.1" text-anchor="middle" stroke="#000" stroke-width="0.08">Cumate</text>
<path d="M367,210.5 C368,218 372,223 377.5,226.3" fill="none" stroke="#000" stroke-width="1"/>
<path d="M380.00,228.00 L375.90,227.27 L378.10,226.71 L377.81,224.46 z" fill="#000"/>
<text x="436.00" y="251.00" font-size="8.1" text-anchor="start" stroke="#000" stroke-width="0.08">IPTG</text>
<path d="M431,248.6 C424,247.5 418.5,243.5 415.5,238" fill="none" stroke="#000" stroke-width="1"/>
<path d="M414.00,235.20 L417.29,237.75 L415.09,237.23 L414.30,239.35 z" fill="#000"/>
<text x="452.40" y="120.70" font-size="16.2" text-anchor="start" fill="#000" stroke="#000" stroke-width="0.2">H</text>
<text x="486.80" y="134.40" font-size="9.6" text-anchor="middle" stroke="#000" stroke-width="0.16">Cumate</text>
<text x="520.20" y="134.40" font-size="9.4" text-anchor="middle" stroke="#000" stroke-width="0.16">IPTG</text>
<text x="562.60" y="130.60" font-size="9.6" text-anchor="middle" stroke="#000" stroke-width="0.16">Relative</text>
<text x="562.70" y="140.00" font-size="9.6" text-anchor="middle" stroke="#000" stroke-width="0.16">copy (A/B)</text>
<text x="638.70" y="134.40" font-size="9.6" text-anchor="middle" stroke="#000" stroke-width="0.16">DNA copy ratio</text>
<circle cx="488.6" cy="156.70000000000002" r="7.8" fill="#fff" stroke="#000" stroke-width="1.35"/>
<circle cx="519.4" cy="156.70000000000002" r="7.8" fill="#fff" stroke="#000" stroke-width="1.35"/>
<text x="542.60" y="158.80" font-size="7.8" text-anchor="start" font-weight="bold" fill="#e97132">2.5</text>
<text x="562.20" y="158.80" font-size="7.8" text-anchor="middle" font-weight="bold" fill="#111">/</text>
<text x="581.20" y="158.80" font-size="7.8" text-anchor="end" font-weight="bold" fill="#1e76a2">3.2</text>
<rect x="595" y="145.60" width="37.80" height="21.4" fill="#e97132"/>
<rect x="632.80" y="145.60" width="52.20" height="21.4" fill="#1e76a2"/>
<text x="612.30" y="158.50" font-size="5.7" text-anchor="middle" fill="#fff" opacity="0.85">42%</text>
<text x="660.30" y="158.50" font-size="5.7" text-anchor="middle" fill="#fff" opacity="0.85">58%</text>
<path d="M623,156.4 H643.6 M623,153.70000000000002 V159.1 M643.6,153.70000000000002 V159.1" stroke="#000" stroke-width="1.05" fill="none"/>
<circle cx="488.6" cy="191.5" r="7.8" fill="#e97132" stroke="#000" stroke-width="1.35"/>
<circle cx="519.4" cy="191.5" r="7.8" fill="#fff" stroke="#000" stroke-width="1.35"/>
<text x="542.60" y="193.60" font-size="7.8" text-anchor="start" font-weight="bold" fill="#e97132">8.4</text>
<text x="562.20" y="193.60" font-size="7.8" text-anchor="middle" font-weight="bold" fill="#111">/</text>
<text x="581.20" y="193.60" font-size="7.8" text-anchor="end" font-weight="bold" fill="#1e76a2">3.6</text>
<rect x="595" y="180.40" width="63.00" height="21.4" fill="#e97132"/>
<rect x="658.00" y="180.40" width="27.00" height="21.4" fill="#1e76a2"/>
<text x="625.10" y="193.30" font-size="5.7" text-anchor="middle" fill="#fff" opacity="0.85">70%</text>
<text x="672.70" y="193.30" font-size="5.7" text-anchor="middle" fill="#fff" opacity="0.85">30%</text>
<path d="M654.6,191.2 H661.6 M654.6,188.5 V193.89999999999998 M661.6,188.5 V193.89999999999998" stroke="#000" stroke-width="1.05" fill="none"/>
<circle cx="488.6" cy="226.3" r="7.8" fill="#fff" stroke="#000" stroke-width="1.35"/>
<circle cx="519.4" cy="226.3" r="7.8" fill="#1e76a2" stroke="#000" stroke-width="1.35"/>
<text x="542.60" y="228.40" font-size="7.8" text-anchor="start" font-weight="bold" fill="#e97132">5.1</text>
<text x="562.20" y="228.40" font-size="7.8" text-anchor="middle" font-weight="bold" fill="#111">/</text>
<text x="581.20" y="228.40" font-size="7.8" text-anchor="end" font-weight="bold" fill="#1e76a2">23.4</text>
<rect x="595" y="215.20" width="16.20" height="21.4" fill="#e97132"/>
<rect x="611.20" y="215.20" width="73.80" height="21.4" fill="#1e76a2"/>
<text x="601.50" y="228.10" font-size="5.7" text-anchor="middle" fill="#fff" opacity="0.85">18%</text>
<text x="646.40" y="228.10" font-size="5.7" text-anchor="middle" fill="#fff" opacity="0.85">82%</text>
<path d="M608.9,226.0 H614.1 M608.9,223.3 V228.7 M614.1,223.3 V228.7" stroke="#000" stroke-width="1.05" fill="none"/>
<circle cx="488.6" cy="261.1" r="7.8" fill="#e97132" stroke="#000" stroke-width="1.35"/>
<circle cx="519.4" cy="261.1" r="7.8" fill="#1e76a2" stroke="#000" stroke-width="1.35"/>
<text x="542.60" y="263.20" font-size="7.8" text-anchor="start" font-weight="bold" fill="#e97132">30.8</text>
<text x="562.20" y="263.20" font-size="7.8" text-anchor="middle" font-weight="bold" fill="#111">/</text>
<text x="581.20" y="263.20" font-size="7.8" text-anchor="end" font-weight="bold" fill="#1e76a2">33.9</text>
<rect x="595" y="250.00" width="43.20" height="21.4" fill="#e97132"/>
<rect x="638.20" y="250.00" width="46.80" height="21.4" fill="#1e76a2"/>
<text x="615.70" y="262.90" font-size="5.7" text-anchor="middle" fill="#fff" opacity="0.85">48%</text>
<text x="662.20" y="262.90" font-size="5.7" text-anchor="middle" fill="#fff" opacity="0.85">52%</text>
<path d="M637.4,260.8 H638.4 M637.4,258.1 V263.5 M638.4,258.1 V263.5" stroke="#000" stroke-width="1.05" fill="none"/>
</svg>
</body></html>
